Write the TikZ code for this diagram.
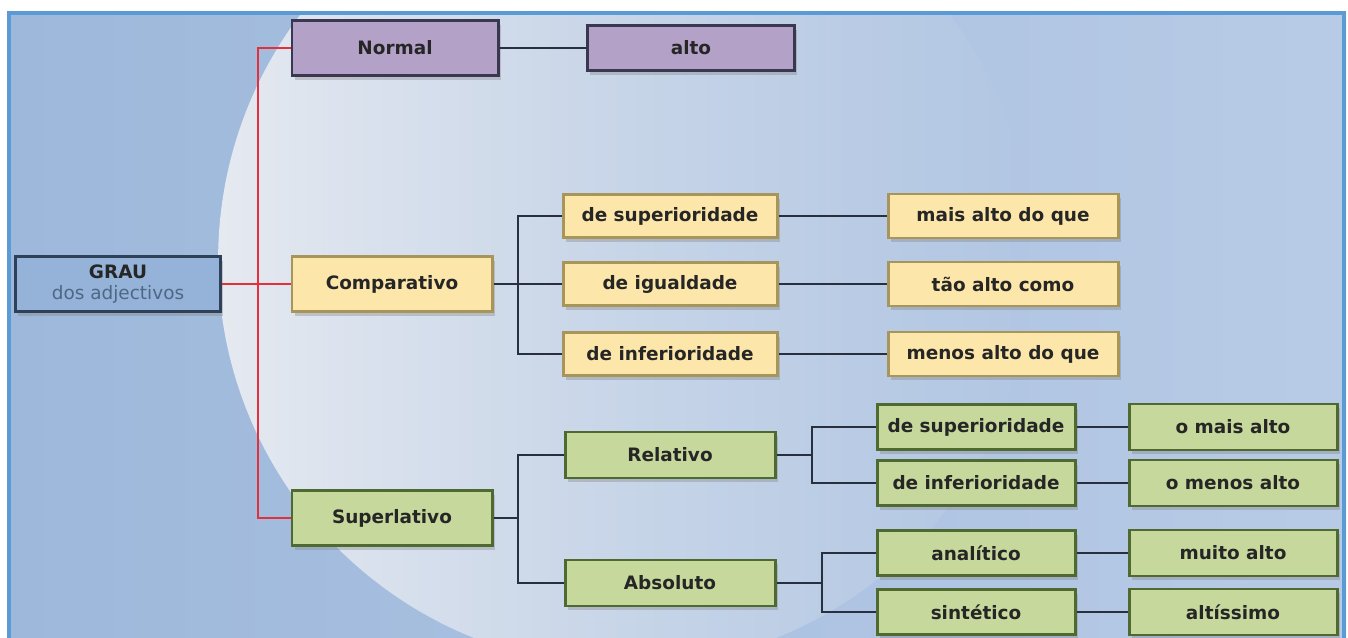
\documentclass[tikz,border=0pt]{standalone}
\usepackage{fontspec}
\setmainfont{DejaVu Sans}
\usetikzlibrary{shadows,fadings}

\definecolor{framecol}{HTML}{5B9BD5}
\definecolor{bgleft}{HTML}{9DB8DB}
\definecolor{bgmid}{HTML}{C9D6E9}
\definecolor{bgright}{HTML}{B8CBE6}
\definecolor{circcol}{HTML}{E6EAF1}
\definecolor{purplefill}{HTML}{B4A1C8}
\definecolor{purpleline}{HTML}{3A3750}
\definecolor{yellowfill}{HTML}{FCE6A9}
\definecolor{yellowline}{HTML}{A8955A}
\definecolor{greenfill}{HTML}{C6D89B}
\definecolor{greenline}{HTML}{4F6A30}
\definecolor{bluefill}{HTML}{95B3D8}
\definecolor{blueline}{HTML}{2E4158}
\definecolor{linkcol}{HTML}{28303F}
\definecolor{redcol}{HTML}{E3303C}
\definecolor{subcol}{HTML}{4D6786}

\tikzfading[name=circfade, left color=transparent!0, middle color=transparent!20, right color=transparent!100]

\begin{document}
\begin{tikzpicture}[x=0.02cm, y=-0.02cm,
	box/.style={draw, line width=1.7pt, inner sep=2pt, align=center,
		font=\fontsize{10.5}{12.5}\selectfont\bfseries, text=black!85,
		drop shadow={shadow xshift=1.6pt, shadow yshift=-2.4pt, opacity=0.35}},
	purplebox/.style={box, fill=purplefill, draw=purpleline},
	yellowbox/.style={box, fill=yellowfill, draw=yellowline},
	greenbox/.style={box, fill=greenfill, draw=greenline},
	bluebox/.style={box, fill=bluefill, draw=blueline},
	link/.style={draw=linkcol, line width=1.1pt},
	redlink/.style={draw=redcol, line width=1.1pt}]

	% background and frame
	\useasboundingbox (0,0) rectangle (1348,638);
	\fill[white] (0,0) rectangle (1348,638);
	\begin{scope}
		\clip (8,12) rectangle (1346,640);
		\shade[left color=bgleft, middle color=bgmid, right color=bgright] (8,12) rectangle (1346,640);
		\fill[circcol, path fading=circfade] (625,260) circle [radius=8.14cm];
	\end{scope}
	\draw[framecol, line width=1.8pt] (9,645) -- (9,13) -- (1344,13) -- (1344,645);

	% root and first level
	\node[bluebox, minimum width=205*0.02cm, minimum height=55*0.02cm] (grau) at (118,284)
		{GRAU\\[-1pt]{\mdseries\color{subcol}dos adjectivos}};
	\node[purplebox, minimum width=206*0.02cm, minimum height=55*0.02cm] (normal) at (395,48) {Normal};
	\node[yellowbox, minimum width=200*0.02cm, minimum height=55*0.02cm] (comp) at (392,284) {Comparativo};
	\node[greenbox, minimum width=200*0.02cm, minimum height=55*0.02cm] (sup) at (392,518) {Superlativo};

	% normal
	\node[purplebox, minimum width=207*0.02cm, minimum height=45*0.02cm] (alto) at (691,48) {alto};

	% comparativo
	\node[yellowbox, minimum width=214*0.02cm, minimum height=43*0.02cm] (csup) at (670,216) {de superioridade};
	\node[yellowbox, minimum width=214*0.02cm, minimum height=43*0.02cm] (cig) at (670,284) {de igualdade};
	\node[yellowbox, minimum width=214*0.02cm, minimum height=43*0.02cm] (cinf) at (670,354) {de inferioridade};
	\node[yellowbox, minimum width=230*0.02cm, minimum height=44*0.02cm] (cmais) at (1003,216) {mais alto do que};
	\node[yellowbox, minimum width=230*0.02cm, minimum height=44*0.02cm] (ctao) at (1003,284) {tão alto como};
	\node[yellowbox, minimum width=230*0.02cm, minimum height=44*0.02cm] (cmenos) at (1003,354) {menos alto do que};

	% superlativo
	\node[greenbox, minimum width=210*0.02cm, minimum height=46*0.02cm] (rel) at (670,455) {Relativo};
	\node[greenbox, minimum width=210*0.02cm, minimum height=46*0.02cm] (abs) at (670,583) {Absoluto};
	\node[greenbox, minimum width=198*0.02cm, minimum height=45*0.02cm] (rsup) at (976,427) {de superioridade};
	\node[greenbox, minimum width=198*0.02cm, minimum height=45*0.02cm] (rinf) at (976,483) {de inferioridade};
	\node[greenbox, minimum width=198*0.02cm, minimum height=45*0.02cm] (ana) at (976,553) {analítico};
	\node[greenbox, minimum width=198*0.02cm, minimum height=45*0.02cm] (sint) at (976,612) {sintético};
	\node[greenbox, minimum width=208*0.02cm, minimum height=46*0.02cm] (omais) at (1233,427) {o mais alto};
	\node[greenbox, minimum width=208*0.02cm, minimum height=46*0.02cm] (omenos) at (1233,483) {o menos alto};
	\node[greenbox, minimum width=208*0.02cm, minimum height=46*0.02cm] (muito) at (1233,553) {muito alto};
	\node[greenbox, minimum width=208*0.02cm, minimum height=46*0.02cm] (altis) at (1233,612) {altíssimo};

	% junctions
	\coordinate (gj) at (258,284);
	\coordinate (cj) at (518,284);
	\coordinate (sj) at (518,518);
	\coordinate (rj) at (812,455);
	\coordinate (aj) at (822,583);

	% connectors
	\draw[redlink] (normal.west) -| (gj) |- (sup.west);
	\draw[redlink] (grau.east) -- (comp.west);
	\draw[link] (normal.east) -- (alto.west);
	\draw[link] (csup.west) -| (cj) |- (cinf.west);
	\draw[link] (comp.east) -- (cig.west);
	\draw[link] (csup.east) -- (cmais.west);
	\draw[link] (cig.east) -- (ctao.west);
	\draw[link] (cinf.east) -- (cmenos.west);
	\draw[link] (rel.west) -| (sj) |- (abs.west);
	\draw[link] (sup.east) -- (sj);
	\draw[link] (rsup.west) -| (rj) |- (rinf.west);
	\draw[link] (rel.east) -- (rj);
	\draw[link] (ana.west) -| (aj) |- (sint.west);
	\draw[link] (abs.east) -- (aj);
	\draw[link] (rsup.east) -- (omais.west);
	\draw[link] (rinf.east) -- (omenos.west);
	\draw[link] (ana.east) -- (muito.west);
	\draw[link] (sint.east) -- (altis.west);

\end{tikzpicture}
\end{document}
